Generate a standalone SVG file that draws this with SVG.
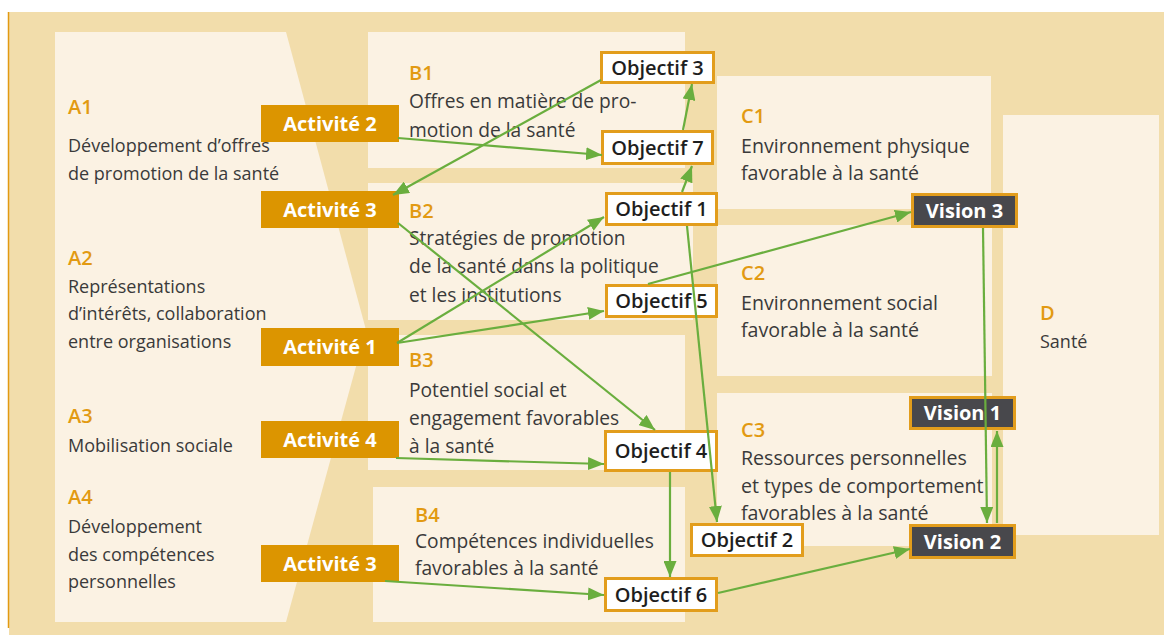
<svg xmlns="http://www.w3.org/2000/svg" width="1164" height="635" viewBox="0 0 1164 635">
<style>
.bg{fill:#F2DDAB}
.panel{fill:#FBF2E3}
.lbl{font-family:"Open Sans","Liberation Sans",sans-serif;font-size:20px;font-weight:600;fill:#E29A12}
.txt{font-family:"Open Sans","Liberation Sans",sans-serif;fill:#3A3A3A}
.ta{font-size:18px}
.tb{font-size:19.2px}
.tc{font-size:19.6px}
.act rect{fill:#DC9500}
.act text{font-family:"Open Sans","Liberation Sans",sans-serif;font-size:20px;font-weight:700;fill:#FFFFFF;text-anchor:middle}
.obj rect{fill:#FFFFFF;stroke:#E29D1C;stroke-width:3}
.obj text{font-family:"Open Sans","Liberation Sans",sans-serif;font-size:20px;font-weight:600;fill:#1E1E1E;text-anchor:middle}
.vis rect{fill:#48484C;stroke:#E29D1C;stroke-width:3}
.vis text{font-family:"Open Sans","Liberation Sans",sans-serif;font-size:20px;font-weight:700;fill:#FFFFFF;text-anchor:middle}
.con line{stroke:#6AAE3E;stroke-width:2.2;fill:none;marker-end:url(#arr)}
</style>
<defs>
<marker id="arr" markerUnits="userSpaceOnUse" markerWidth="17" markerHeight="13" refX="16" refY="6.5" orient="auto">
<path d="M0,0 L16,6.5 L0,13 Z" fill="#6AAE3E"/>
</marker>
</defs>
<rect class="bg" x="9" y="12" width="1155" height="623"/>
<line x1="8.5" y1="12" x2="8.5" y2="628" stroke="#E29A12" stroke-width="1.5"/>

<g id="panel-A">
<polygon class="panel" points="55,32 286,32 366,330 286,622 55,622"/>
<text class="lbl" x="68" y="114">A1</text>
<text class="txt ta" x="68" y="152">Développement d’offres</text>
<text class="txt ta" x="68" y="180">de promotion de la santé</text>
<text class="lbl" x="68" y="265">A2</text>
<text class="txt ta" x="68" y="293">Représentations</text>
<text class="txt ta" x="68" y="320">d’intérêts, collaboration</text>
<text class="txt ta" x="68" y="348">entre organisations</text>
<text class="lbl" x="68" y="423">A3</text>
<text class="txt ta" x="68" y="452">Mobilisation sociale</text>
<text class="lbl" x="68" y="504">A4</text>
<text class="txt ta" x="68" y="533">Développement</text>
<text class="txt ta" x="68" y="561">des compétences</text>
<text class="txt ta" x="68" y="588">personnelles</text>
</g>

<g id="panel-B1">
<rect class="panel" x="368" y="32" width="317" height="136"/>
<text class="lbl" x="409" y="80">B1</text>
<text class="txt tb" x="409" y="108">Offres en matière de pro-</text>
<text class="txt tb" x="409" y="137">motion de la santé</text>
</g>
<g id="panel-B2">
<rect class="panel" x="368" y="183" width="325" height="137"/>
<text class="lbl" x="409" y="218">B2</text>
<text class="txt tb" x="409" y="245">Stratégies de promotion</text>
<text class="txt tb" x="409" y="273">de la santé dans la politique</text>
<text class="txt tb" x="409" y="302">et les institutions</text>
</g>
<g id="panel-B3">
<rect class="panel" x="368" y="335" width="317" height="135"/>
<text class="lbl" x="409" y="367">B3</text>
<text class="txt tb" x="409" y="397">Potentiel social et</text>
<text class="txt tb" x="409" y="425">engagement favorables</text>
<text class="txt tb" x="409" y="453">à la santé</text>
</g>
<g id="panel-B4">
<rect class="panel" x="373" y="487" width="312" height="135"/>
<text class="lbl" x="415" y="522">B4</text>
<text class="txt tb" x="415" y="548">Compétences individuelles</text>
<text class="txt tb" x="415" y="575">favorables à la santé</text>
</g>

<g id="panel-C1">
<rect class="panel" x="717" y="76" width="274" height="133"/>
<text class="lbl" x="741" y="123">C1</text>
<text class="txt tc" x="741" y="153">Environnement physique</text>
<text class="txt tc" x="741" y="180">favorable à la santé</text>
</g>
<g id="panel-C2">
<rect class="panel" x="717" y="225" width="275" height="151"/>
<text class="lbl" x="741" y="280">C2</text>
<text class="txt tc" x="741" y="310">Environnement social</text>
<text class="txt tc" x="741" y="337">favorable à la santé</text>
</g>
<g id="panel-C3">
<rect class="panel" x="717" y="393" width="275" height="153"/>
<text class="lbl" x="741" y="437">C3</text>
<text class="txt tc" x="741" y="465">Ressources personnelles</text>
<text class="txt tc" x="741" y="493">et types de comportement</text>
<text class="txt tc" x="741" y="520">favorables à la santé</text>
</g>
<g id="panel-D">
<rect class="panel" x="1003" y="115" width="156" height="420"/>
<text class="lbl" x="1040" y="320">D</text>
<text class="txt ta" x="1040" y="348">Santé</text>
</g>

<g id="activite-2" class="act"><rect x="261" y="105" width="138" height="37"/><text x="330" y="131">Activité 2</text></g>
<g id="activite-3a" class="act"><rect x="261" y="191" width="138" height="37"/><text x="330" y="217">Activité 3</text></g>
<g id="activite-1" class="act"><rect x="261" y="328" width="138" height="38"/><text x="330" y="354">Activité 1</text></g>
<g id="activite-4" class="act"><rect x="261" y="421" width="138" height="37"/><text x="330" y="447">Activité 4</text></g>
<g id="activite-3b" class="act"><rect x="261" y="545" width="138" height="37"/><text x="330" y="571">Activité 3</text></g>

<g id="objectif-3" class="obj"><rect x="601.5" y="52.5" width="112" height="30"/><text x="657.5" y="75">Objectif 3</text></g>
<g id="objectif-7" class="obj"><rect x="602.5" y="131.5" width="110" height="32"/><text x="657.5" y="155">Objectif 7</text></g>
<g id="objectif-1" class="obj"><rect x="606.5" y="193.5" width="110" height="31"/><text x="661.5" y="216">Objectif 1</text></g>
<g id="objectif-5" class="obj"><rect x="606.5" y="285.5" width="110" height="31"/><text x="661.5" y="308">Objectif 5</text></g>
<g id="objectif-4" class="obj"><rect x="605.5" y="431.5" width="111" height="39"/><text x="661" y="458">Objectif 4</text></g>
<g id="objectif-6" class="obj"><rect x="605.5" y="578.5" width="111" height="32"/><text x="661" y="602">Objectif 6</text></g>
<g id="objectif-2" class="obj"><rect x="691.5" y="524.5" width="111" height="31"/><text x="747" y="547">Objectif 2</text></g>

<g id="vision-3" class="vis"><rect x="912.5" y="194.5" width="104" height="32"/><text x="964.5" y="218">Vision 3</text></g>
<g id="vision-1" class="vis"><rect x="910.5" y="397.5" width="104" height="31"/><text x="962.5" y="420">Vision 1</text></g>
<g id="vision-2" class="vis"><rect x="910.5" y="525.5" width="104" height="32"/><text x="962.5" y="549">Vision 2</text></g>

<g id="connectors" class="con">
<line x1="398" y1="138" x2="602" y2="155"/>
<line x1="601" y1="80" x2="393" y2="195"/>
<line x1="683" y1="130" x2="692" y2="84"/>
<line x1="682" y1="192" x2="692" y2="166"/>
<line x1="397" y1="343" x2="604" y2="217"/>
<line x1="397" y1="343" x2="604" y2="311"/>
<line x1="398" y1="223" x2="655" y2="430"/>
<line x1="648" y1="284" x2="911" y2="212"/>
<line x1="687" y1="226" x2="717" y2="522"/>
<line x1="396" y1="458" x2="604" y2="464"/>
<line x1="670" y1="472" x2="670" y2="577"/>
<line x1="385" y1="581" x2="604" y2="595"/>
<line x1="718" y1="593" x2="910" y2="549"/>
<line x1="983" y1="228" x2="987" y2="523"/>
<line x1="997" y1="523" x2="997" y2="431"/>
</g>
</svg>
